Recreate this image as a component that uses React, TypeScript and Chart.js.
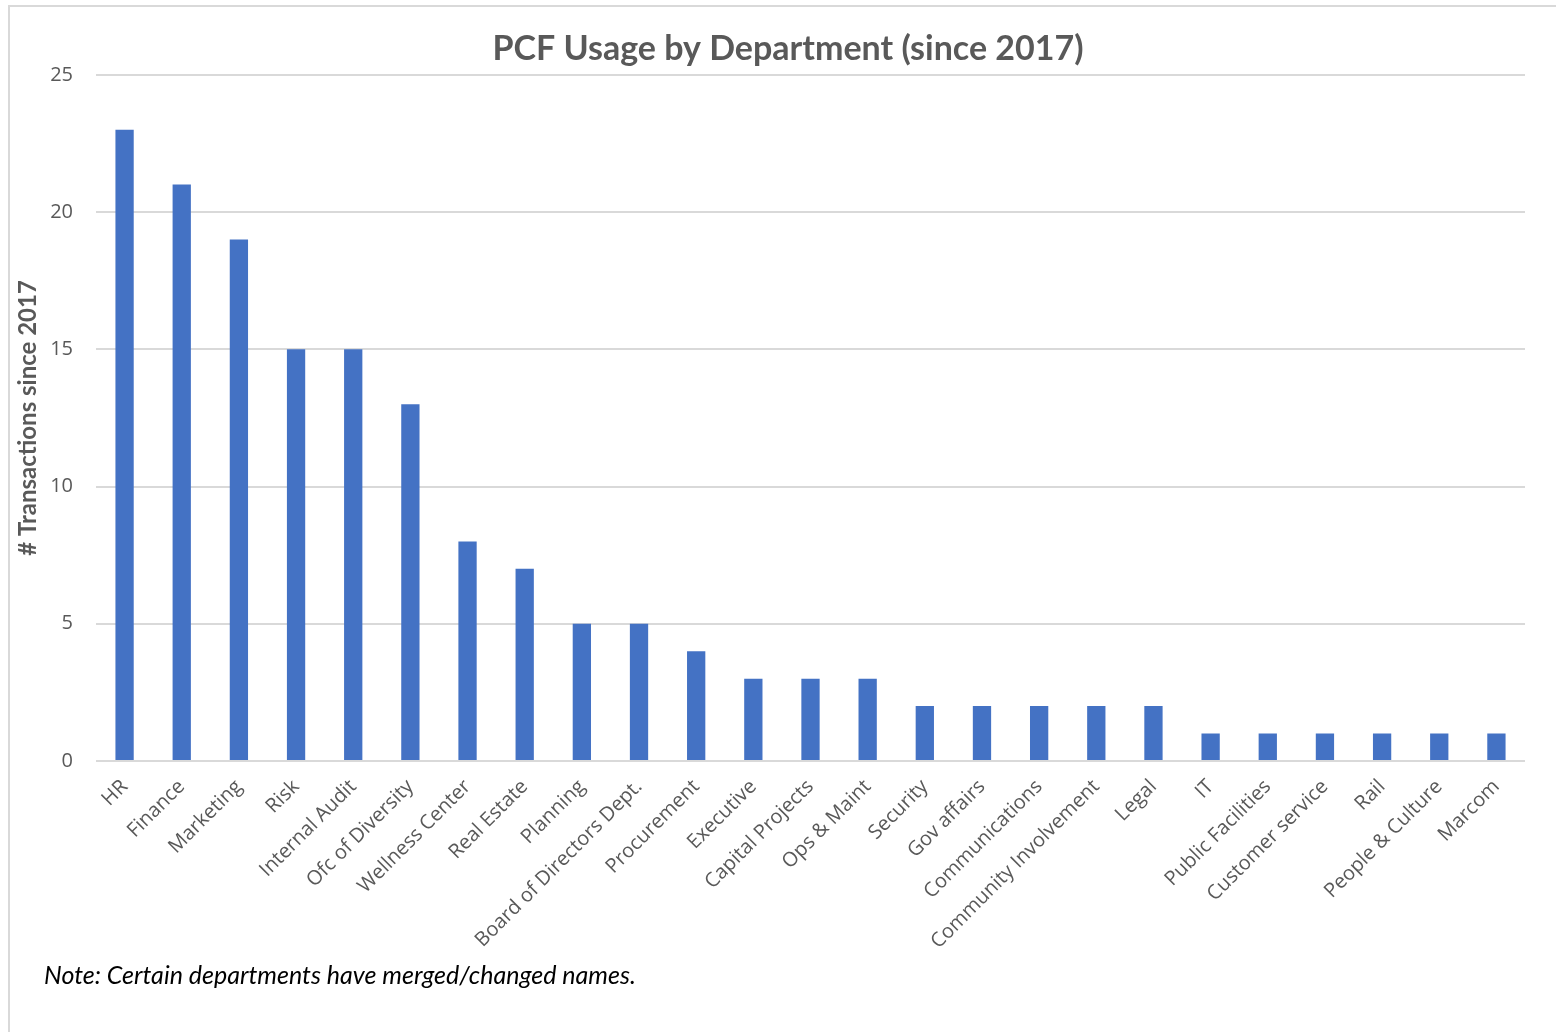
import React, { useEffect, useRef } from "react";
import { Chart, registerables } from "chart.js";

Chart.register(...registerables);

const departments = [
  "HR",
  "Finance",
  "Marketing",
  "Risk",
  "Internal Audit",
  "Ofc of Diversity",
  "Wellness Center",
  "Real Estate",
  "Planning",
  "Board of Directors Dept.",
  "Procurement",
  "Executive",
  "Capital Projects",
  "Ops & Maint",
  "Security",
  "Gov affairs",
  "Communications",
  "Community Involvement",
  "Legal",
  "IT",
  "Public Facilities",
  "Customer service",
  "Rail",
  "People & Culture",
  "Marcom",
];

const transactions = [23, 21, 19, 15, 15, 13, 8, 7, 5, 5, 4, 3, 3, 3, 2, 2, 2, 2, 2, 1, 1, 1, 1, 1, 1];

const yMin = 0;
const yMax = 25;
const yStep = 5;

const chartTitle = "PCF Usage by Department (since 2017)";
const yAxisTitle = "# Transactions since 2017";
const noteText = "Note: Certain departments have merged/changed names.";

const GRAY = "#595959";
const BAR = "#4472C4";
const GRID = "#d9d9d9";

const centerTitlePlugin = {
  id: "centerTitle",
  afterLayout(chart: any) {
    const t = chart.titleBlock;
    if (t) {
      t.left = 0;
      t.right = chart.width;
    }
  },
};

export default function App() {
  const ref = useRef<HTMLCanvasElement>(null);

  useEffect(() => {
    if (!ref.current) return;
    const chart = new Chart(ref.current, {
      type: "bar",
      data: {
        labels: departments,
        datasets: [
          {
            data: transactions,
            backgroundColor: BAR,
            borderWidth: 0,
            barPercentage: 0.32,
            categoryPercentage: 1,
          },
        ],
      },
      options: {
        responsive: false,
        animation: false,
        layout: { padding: { left: 0, right: 41, top: 0, bottom: 0 } },
        plugins: {
          legend: { display: false },
          tooltip: { enabled: false },
          title: {
            display: true,
            text: chartTitle,
            color: GRAY,
            font: { family: "Lato", size: 34, weight: "bold", lineHeight: 1.2 },
            padding: { top: 22, bottom: 5 },
          },
        },
        scales: {
          x: {
            grid: { display: false, drawTicks: false },
            border: { display: false },
            ticks: {
              color: GRAY,
              font: { family: "Open Sans", size: 20 },
              minRotation: 45,
              maxRotation: 45,
              autoSkip: false,
              padding: 14,
            },
            afterFit(scale: any) {
              scale.height = 271;
            },
          },
          y: {
            min: yMin,
            max: yMax,
            ticks: {
              stepSize: yStep,
              color: GRAY,
              font: { family: "Open Sans", size: 20 },
              padding: 23,
            },
            grid: { color: GRID, lineWidth: 2, drawTicks: false },
            border: { display: false },
            title: {
              display: true,
              text: yAxisTitle,
              color: GRAY,
              font: { family: "Lato", size: 24, weight: "bold", lineHeight: 1.2 },
              padding: { top: 4, bottom: 0 },
            },
            afterFit(scale: any) {
              scale.width = 86;
            },
          },
        },
      },
      plugins: [centerTitlePlugin],
    } as any);
    return () => chart.destroy();
  }, []);

  return (
    <div
      style={{
        position: "fixed",
        left: 0,
        top: 0,
        width: 1556,
        height: 1032,
        overflow: "hidden",
        background: "#ffffff",
      }}
    >
      <div
        style={{
          position: "absolute",
          left: 8,
          top: 5,
          width: 1556,
          height: 1040,
          border: "2px solid #d9d9d9",
          boxSizing: "content-box",
        }}
      >
        <canvas
          ref={ref}
          width={1556}
          height={1025}
          style={{ position: "absolute", left: 0, top: 0, width: 1556, height: 1025 }}
        />
      </div>
      <div
        style={{
          position: "absolute",
          left: 44,
          top: 958,
          fontFamily: "Lato",
          fontStyle: "italic",
          fontSize: 25,
          lineHeight: "32px",
          color: "#000000",
          whiteSpace: "nowrap",
        }}
      >
        {noteText}
      </div>
    </div>
  );
}
